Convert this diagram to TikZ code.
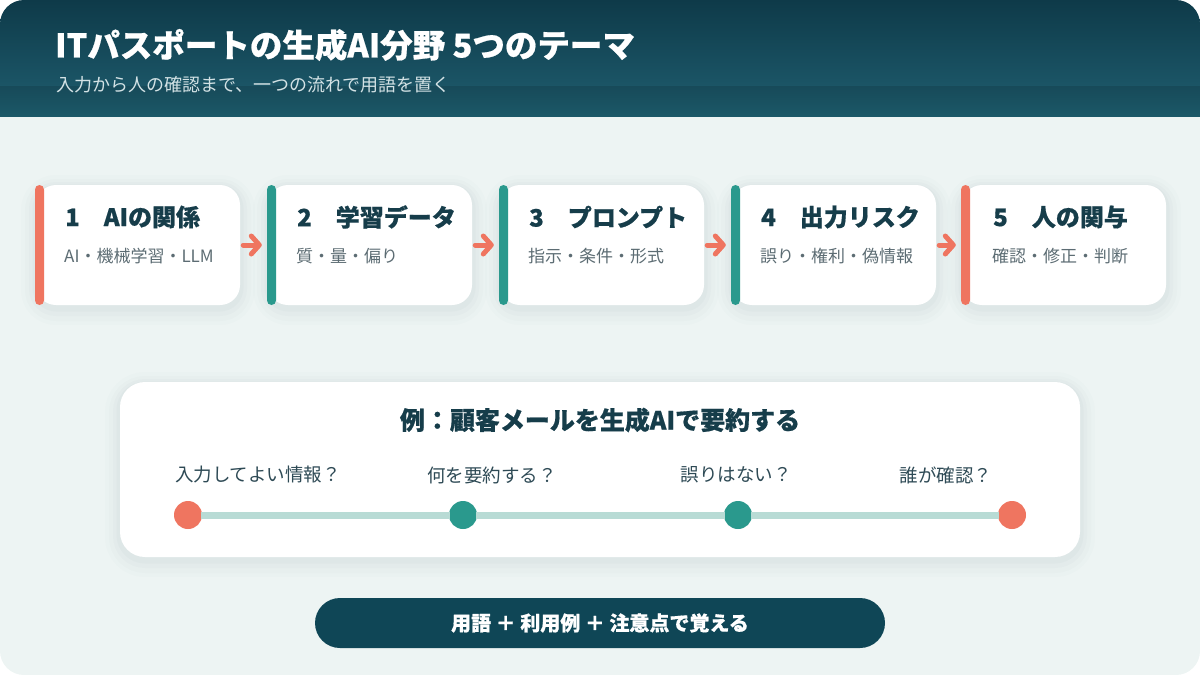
\documentclass[tikz,border=0pt]{standalone}
\usepackage{fontspec}
\newfontfamily\jp[BoldFeatures={FakeBold=0.6}]{Noto Sans CJK JP}
\usetikzlibrary{arrows.meta,positioning}

\definecolor{hdtop}{HTML}{0E3A49}
\definecolor{hdmid}{HTML}{1B5566}
\definecolor{hdband}{HTML}{174A59}
\definecolor{hdbot}{HTML}{1B5868}
\definecolor{pagebg}{HTML}{EDF4F3}
\definecolor{coral}{HTML}{EF7560}
\definecolor{teal}{HTML}{2A998D}
\definecolor{track}{HTML}{B8DBD5}
\definecolor{ink}{HTML}{163D4A}
\definecolor{subgray}{HTML}{5C6C73}
\definecolor{qink}{HTML}{2E4A55}
\definecolor{pillc}{HTML}{0F4656}
\definecolor{leadc}{HTML}{D3E2E5}
\definecolor{shadowc}{HTML}{2F5560}

\begin{document}
\begin{tikzpicture}[x=1pt,y=-1pt,
	every node/.style = {font=\jp, inner sep=0pt},
	softshadow/.style = {
		preaction={draw=shadowc, draw opacity=0.012, line width=30pt, transform canvas={yshift=-5pt}},
		preaction={draw=shadowc, draw opacity=0.015, line width=22pt, transform canvas={yshift=-5pt}},
		preaction={draw=shadowc, draw opacity=0.018, line width=14pt, transform canvas={yshift=-4pt}},
		preaction={draw=shadowc, draw opacity=0.022, line width=7pt, transform canvas={yshift=-3pt}}},
	card/.style = {fill=white, rounded corners=20pt, minimum width=204pt, minimum height=120pt, softshadow},
	accent/.style = {fill=#1, rounded corners=4.5pt, minimum width=9pt, minimum height=120pt, anchor=west},
	ktitle/.style = {anchor=west, text=ink, font=\jp\bfseries\fontsize{24}{28}\selectfont},
	ksub/.style = {anchor=west, text=subgray, font=\jp\fontsize{17}{20}\selectfont},
	flow/.style = {draw=coral, line width=5pt, line cap=round,
		-{Straight Barb[length=8pt, width=18pt, round]}, shorten <=3pt, shorten >=5pt},
	panel/.style = {fill=white, rounded corners=25pt, minimum width=960pt, minimum height=175pt, softshadow},
	dot/.style = {circle, fill=#1, minimum size=28pt},
	qlabel/.style = {text=qink, font=\jp\fontsize{18.5}{22}\selectfont},
	pill/.style = {fill=pillc, rounded corners=25pt, minimum width=570pt, minimum height=50pt,
		text=white, font=\jp\bfseries\fontsize{20}{24}\selectfont}]

	\useasboundingbox (0,0) rectangle (1200,675);

	% page and header band
	\begin{scope}
		\clip[rounded corners=24pt] (0,0) rectangle (1200,675);
		\fill[pagebg] (0,0) rectangle (1200,675);
		\shade[top color=hdtop, bottom color=hdmid] (0,0) rectangle (1200,86);
		\shade[top color=hdband, bottom color=hdbot] (0,86) rectangle (1200,116);
	\end{scope}
	\node[anchor=west, text=white, font=\jp\bfseries\fontsize{32.5}{38}\selectfont] (head) at (55,45)
		{ITパスポートの生成AI分野 5つのテーマ};
	\node[anchor=west, text=leadc, font=\jp\fontsize{18}{22}\selectfont] (lead) at (56,85)
		{入力から人の確認まで、一つの流れで用語を置く};

	% five theme cards
	\node[card] (k1) at (138,245) {};
	\node[card] (k2) at (370,245) {};
	\node[card] (k3) at (602,245) {};
	\node[card] (k4) at (834,245) {};
	\node[card] (k5) at (1064,245) {};
	\node[accent=coral] (b1) at ([xshift=-1pt]k1.west) {};
	\node[accent=teal] (b2) at ([xshift=-1pt]k2.west) {};
	\node[accent=teal] (b3) at ([xshift=-1pt]k3.west) {};
	\node[accent=teal] (b4) at ([xshift=-1pt]k4.west) {};
	\node[accent=coral] (b5) at ([xshift=-1pt]k5.west) {};

	\node[ktitle] (t1) at (65,217) {1　AIの関係};
	\node[ksub] (s1) at (64,256) {AI・機械学習・LLM};
	\node[ktitle] (t2) at (297,217) {2　学習データ};
	\node[ksub] (s2) at (296,256) {質・量・偏り};
	\node[ktitle] (t3) at (529,217) {3　プロンプト};
	\node[ksub] (s3) at (528,256) {指示・条件・形式};
	\node[ktitle] (t4) at (761,217) {4　出力リスク};
	\node[ksub] (s4) at (760,256) {誤り・権利・偽情報};
	\node[ktitle] (t5) at (993,217) {5　人の関与};
	\node[ksub] (s5) at (992,256) {確認・修正・判断};

	\draw[flow] (k1.east) -- (b2.west);
	\draw[flow] (k2.east) -- (b3.west);
	\draw[flow] (k3.east) -- (b4.west);
	\draw[flow] (k4.east) -- (b5.west);

	% example panel with timeline
	\node[panel] (ex) at (600,469.5) {};
	\node[text=ink, font=\jp\bfseries\fontsize{25}{30}\selectfont] (extitle) at (600,420)
		{例：顧客メールを生成AIで要約する};

	\node[qlabel] (q1) at (258,475) {入力してよい情報？};
	\node[qlabel] (q2) at (492,475) {何を要約する？};
	\node[qlabel] (q3) at (736,475) {誤りはない？};
	\node[qlabel] (q4) at (946,475) {誰が確認？};

	\node[dot=coral] (d1) at (188,515) {};
	\node[dot=teal] (d2) at (463,515) {};
	\node[dot=teal] (d3) at (738,515) {};
	\node[dot=coral] (d4) at (1012,515) {};
	\draw[track, line width=7pt, shorten <=-1pt, shorten >=-1pt] (d1) -- (d2);
	\draw[track, line width=7pt, shorten <=-1pt, shorten >=-1pt] (d2) -- (d3);
	\draw[track, line width=7pt, shorten <=-1pt, shorten >=-1pt] (d3) -- (d4);

	% closing line
	\node[pill] (memo) at (600,623) {用語 ＋ 利用例 ＋ 注意点で覚える};
\end{tikzpicture}
\end{document}
